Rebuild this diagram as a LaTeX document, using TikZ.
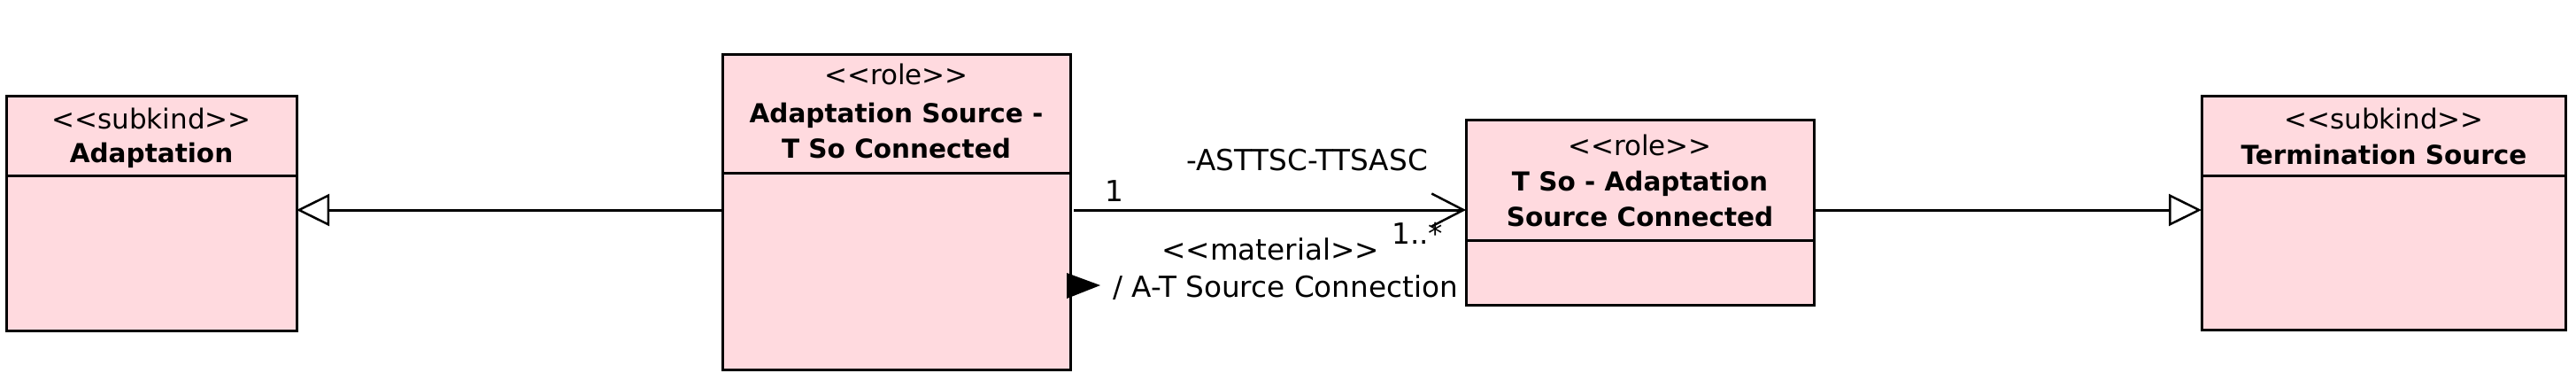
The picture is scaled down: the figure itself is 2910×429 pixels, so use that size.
\documentclass[tikz,border=0pt]{standalone}
\usepackage{fontspec}
\newfontfamily\umlfont{DejaVu Sans}
\usetikzlibrary{arrows.meta}
\definecolor{umlpink}{RGB}{255,218,223}
\begin{document}
\begin{tikzpicture}[x=1pt,y=-1pt,
  umlbox/.style={draw=black, line width=3pt, fill=umlpink, inner sep=0pt, outer sep=0pt, anchor=north west},
  stereo/.style={font=\umlfont\fontsize{31}{38}\selectfont, inner sep=0pt, anchor=base},
  bname/.style={font=\umlfont\bfseries\fontsize{29.5}{38}\selectfont, inner sep=0pt, anchor=base},
  lbl/.style={font=\umlfont\fontsize{32.7}{38}\selectfont, inner sep=0pt, anchor=base west},
  conn/.style={line width=3pt},
  divider/.style={line width=3pt}]
\useasboundingbox (0,0) rectangle (2910,429);

% boxes
\node[umlbox, minimum width=328pt, minimum height=265pt] (b1) at (7,108) {};
\node[umlbox, minimum width=393pt, minimum height=356pt] (b2) at (816,61) {};
\node[umlbox, minimum width=393pt, minimum height=209pt] (b3) at (1656,135.5) {};
\node[umlbox, minimum width=411.5pt, minimum height=264.5pt] (b4) at (2487,108) {};

% dividers
\coordinate (d1) at (0,198);
\coordinate (d2) at (0,195);
\coordinate (d3) at (0,271);
\draw[divider] (b1.west |- d1) -- (b1.east |- d1);
\draw[divider] (b2.west |- d2) -- (b2.east |- d2);
\draw[divider] (b3.west |- d3) -- (b3.east |- d3);
\draw[divider] (b4.west |- d1) -- (b4.east |- d1);

% header texts
\node[stereo] (b1s) at (171,145) {<<subkind>>};
\node[bname]  (b1n) at (171,183.5) {Adaptation};
\node[stereo] (b2s) at (1012.5,95) {<<role>>};
\node[bname]  (b2n) at (1012.5,138.3) {Adaptation Source -};
\node[bname]  (b2m) at (1012.5,178.3) {T So Connected};
\node[stereo] (b3s) at (1852.5,175) {<<role>>};
\node[bname]  (b3n) at (1852.5,215) {T So - Adaptation};
\node[bname]  (b3m) at (1852.5,255) {Source Connected};
\node[stereo] (b4s) at (2693,145) {<<subkind>>};
\node[bname]  (b4n) at (2693,185) {Termination Source};

% connectors
\coordinate (cy) at (0,237);
\draw[conn, -{Triangle[open, length=37pt, width=36pt, line width=2.5pt, fill=white]}]
  (b2.west |- cy) -- (b1.east |- cy);
\draw[conn, -{Triangle[open, length=37pt, width=36pt, line width=2.5pt, fill=white]}]
  (b3.east |- cy) -- (b4.west |- cy);
\draw[conn, -{Straight Barb[length=36pt, width=37pt, line width=2.5pt]}]
  ([xshift=4pt]b2.east |- cy) -- (b3.west |- cy);

% association labels
\node[lbl] (rn) at (1340,192) {-ASTTSC-TTSASC};
\node[lbl] (m1) at (1248,227) {1};
\node[lbl] (m2) at (1572,275) {1..*};
\node[lbl] (st) at (1312,293.3) {<<material>>};
\node[lbl] (an) at (1257,335) {/ A-T Source Connection};
\fill (1205,308) -- (1243,322) -- (1205,337) -- cycle;
\end{tikzpicture}
\end{document}
